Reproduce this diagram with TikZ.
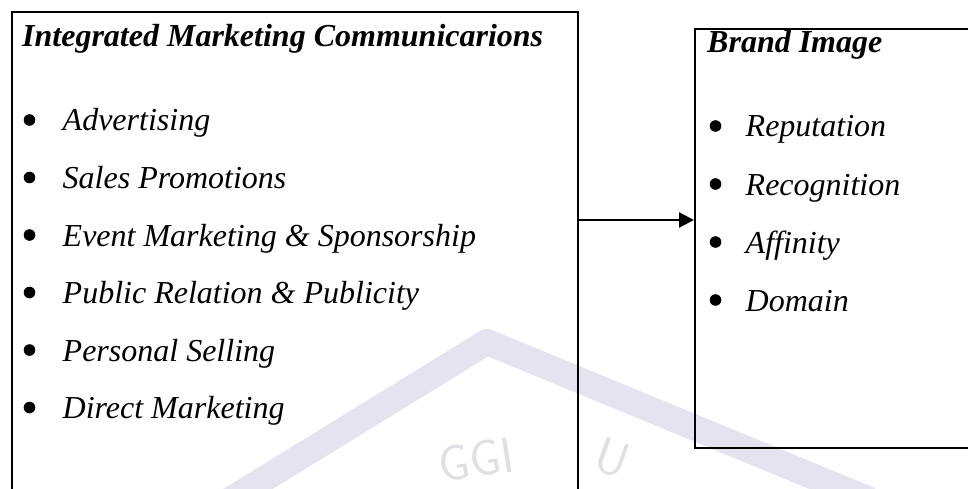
\documentclass[tikz,border=0pt]{standalone}
\usepackage{fontspec}
\setmainfont{Liberation Serif}
\usetikzlibrary{arrows.meta}
\definecolor{wmark}{RGB}{228,228,240}
\definecolor{wtext}{RGB}{224,224,228}
\tikzset{
  frame/.style={draw=black, line width=2.4pt, rectangle, inner sep=0pt, anchor=north west},
  heading/.style={anchor=base west, inner sep=0pt, font=\fontsize{32}{38}\selectfont\bfseries\itshape},
  item/.style={anchor=base west, inner sep=0pt, font=\fontsize{32}{38}\selectfont\itshape},
  link/.style={line width=2.2pt, -{Triangle[length=15pt,width=15pt]}}
}
% bullet drawn as a filled dot, followed by the entry text
\newcommand{\bul}[2][39pt]{\makebox[#1][l]{\tikz[baseline=-11pt]\fill (0,0) circle (5.8pt);}#2}
\begin{document}
\begin{tikzpicture}[x=1pt,y=-1pt]
\useasboundingbox (0,0) rectangle (968,489);
\begin{scope}
\clip (0,0) rectangle (968,489);
% faint watermark behind the diagram
\draw[wmark, line width=26pt, line join=round]
  (230,500) -- (487,342) -- (870,500);
\node[wtext, rotate=9, font=\fontsize{50}{50}\selectfont\sffamily] (wm1) at (476,460) {GGI};
\node[wtext, rotate=-20, font=\fontsize{50}{50}\selectfont\sffamily] (wm2) at (612,458) {U};
% boxes
\node[frame, minimum width=566pt, minimum height=500pt] (imc) at (11,11) {};
\node[frame, minimum width=300pt, minimum height=419pt] (bi) at (694,28) {};
\end{scope}
% left box contents
\node[heading] (imct) at (22,47) {Integrated Marketing Communicarions};
\node[item] (i1) at (23.5,131) {\bul{Advertising}};
\node[item] (i2) at (23.5,188.5) {\bul{Sales Promotions}};
\node[item] (i3) at (23.5,246) {\bul{Event Marketing \& Sponsorship}};
\node[item] (i4) at (23.5,303.5) {\bul{Public Relation \& Publicity}};
\node[item] (i5) at (23.5,361) {\bul{Personal Selling}};
\node[item] (i6) at (23.5,418.5) {\bul{Direct Marketing}};
% right box contents
\node[heading] (bit) at (707,53) {Brand Image};
\node[item] (r1) at (709.5,137) {\bul[36pt]{Reputation}};
\node[item] (r2) at (709.5,195) {\bul[36pt]{Recognition}};
\node[item] (r3) at (709.5,253) {\bul[36pt]{Affinity}};
\node[item] (r4) at (709.5,311) {\bul[36pt]{Domain}};
% connector
\coordinate (ay) at (0,220);
\draw[link] (imc.east |- ay) -- (bi.west |- ay);
\end{tikzpicture}
\end{document}
